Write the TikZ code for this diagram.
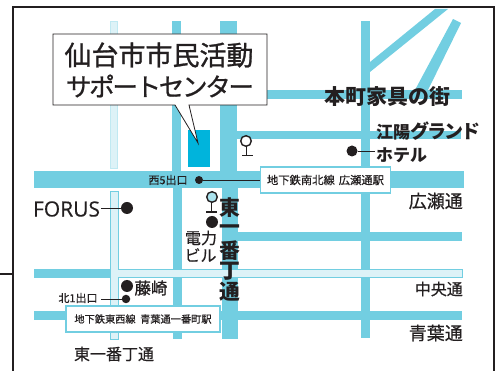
\documentclass[tikz,border=0pt]{standalone}
\usepackage{fontspec}
\setmainfont[FakeBold=0.5]{Noto Sans CJK JP}
\newfontfamily\latinf[FakeBold=0.3]{Open Sans}
\newfontfamily\heavyf{Noto Sans CJK JP}
\newfontfamily\kataf[FakeBold=0.8,LetterSpace=-9]{Noto Sans CJK JP}
\newfontfamily\katabf[LetterSpace=-10]{Noto Sans CJK JP}
\newfontfamily\midf[FakeBold=1]{Noto Sans CJK JP}
\definecolor{road}{HTML}{72CEE1}
\definecolor{pale}{HTML}{DDF2F7}
\definecolor{bldg}{HTML}{00B4DC}
\definecolor{ink}{HTML}{231F20}
\newcommand{\fs}[1]{\fontsize{#1}{#1}\selectfont}
\tikzset{
  x=1pt,y=-1pt,
  palefill/.style={fill=pale,draw=road,line width=0.8pt},
  lbl/.style={inner sep=0pt,text=ink,anchor=center},
  stationbox/.style={fill=white,draw=road,line width=1.1pt,inner sep=0pt,text=ink},
  leader/.style={draw=ink,line width=0.7pt},
  spot/.style={circle,fill=ink,inner sep=0pt},
  symring/.style={draw=ink,line width=1.4pt},
  symstem/.style={draw=ink,line width=1.9pt},
}
\begin{document}
\begin{tikzpicture}
\useasboundingbox (0,0) rectangle (496,371);
% frame
\draw[ink,line width=2.8pt] (13,371) -- (13,7) -- (494,7) -- (494,371);
\draw[ink,line width=1.3pt] (0,274) -- (13,274);
% roads
\fill[road] (172,21) rectangle (181,172);
\fill[road] (220,21) rectangle (237,172);
\fill[road] (361,21) rectangle (370,172);
\fill[road] (173,188) rectangle (182,339);
\fill[road] (222,188) rectangle (238,339);
\fill[road] (361,188) rectangle (370,338);
\fill[road] (236,90) rectangle (462,99);
\fill[road] (236,131) rectangle (461,139);
\fill[road] (34,171) rectangle (464,188);
\fill[road] (238,232) rectangle (462,241);
\fill[road] (34,269) rectangle (112,278);
\fill[road] (34,311) rectangle (462,320);
\fill[road] (370,62) -- (435,9) -- (448,9) -- (370,72) -- cycle;
\fill[road] (415,90) -- (453,19) -- (461,23) -- (428,90) -- cycle;
% pale roads
\path[fill=pale,draw=road!45,line width=0.5pt] (110.3,21) rectangle (117.7,168);
\path[palefill] (110.5,191) rectangle (118,339);
\path[palefill] (118,269.5) rectangle (462,277.5);
\fill[pale] (111,270) rectangle (125,277);
% building
\fill[bldg] (188,130) rectangle (210,167);
% callout
\draw[ink,line width=0.8pt,fill=white,line join=miter]
 (53,34) -- (267,34) -- (267,105) -- (189,105) -- (198,143) -- (175,105) -- (53,105) -- cycle;
\node[lbl] (title1) at (159,55) {\midf\fs{27}仙台市市民活動};
\node[lbl] (title2) at (160,86) {\kataf\fs{25.5}サポートセンター};
% labels right
\node[lbl] (honcho) at (387,97) {\heavyf\bfseries\fs{21}本町家具の街};
\node[lbl,anchor=west] (koyo1) at (376,131) {\heavyf\bfseries\fs{17}江陽\katabf\bfseries\fs{19}グランド};
\node[lbl,anchor=west] (koyo2) at (376,155) {\heavyf\bfseries\fs{17}ホテル};
\node[spot,minimum size=11pt] (koyodot) at (352,151) {};
\coordinate (koyoend) at (375,151);
\draw[leader] (koyodot) -- (koyoend);
% station boxes
\node[stationbox,minimum width=130pt,minimum height=26pt] (nsbox) at (325.5,180) {\fs{11.3}地下鉄南北線\hspace{0.35em}広瀬通駅};
\node[lbl] (west5) at (168,180) {\fs{11}西5出口};
\node[spot,minimum size=8pt] (west5dot) at (199,180) {};
\draw[leader] (west5dot) -- (nsbox);
\node[stationbox,minimum width=154pt,minimum height=26pt] (ewbox) at (143,319) {\fs{10.2}地下鉄東西線\hspace{0.45em}青葉通一番町駅};
% metro symbols
\draw[symring,fill=white] (246,141) circle (5.3);
\draw[symstem] (246.5,146.5) -- (246.5,155) (242,155.5) -- (253,155.5);
\draw[symring,fill=road!60] (212,197) circle (5.3);
\draw[symstem] (211.5,202.5) -- (211.5,212) (206,212) -- (217,212);
% left labels
\node[lbl] (forus) at (66.5,209) {\latinf\fs{21}FORUS};
\node[spot,minimum size=12pt] (forusdot) at (127,208) {};
\coordinate (forusend) at (101,208);
\draw[leader] (forusend) -- (forusdot);
\node[spot,minimum size=12pt] (denryokudot) at (212,222) {};
\node[lbl] (den1) at (201,238) {\fs{16}電力};
\node[lbl] (den2) at (200.5,255) {\fs{16}ビル};
\foreach \c/\y/\n in {東/208/a,一/230/b,番/251/c,丁/271.5/d,通/292/e}
  \node[lbl] (v\n) at (229.5,\y) {\heavyf\bfseries\fs{20.8}\c};
\node[spot,minimum size=12pt] (fujidot) at (127,286) {};
\node[lbl] (fuji) at (151,288) {\midf\fs{16.5}藤崎};
\node[lbl] (north1) at (78,298) {\fs{11}北1出口};
\node[spot,minimum size=8.5pt] (northdot) at (126,299) {};
\coordinate (northend) at (101,299);
\draw[leader] (northend) -- (northdot);
\node[lbl] (street) at (114,354) {\fs{16}東一番丁通};
\node[lbl,anchor=east] (hirose) at (463,201) {\fs{18}広瀬通};
\node[lbl,anchor=east] (chuo) at (463,289) {\fs{16}中央通};
\node[lbl,anchor=east] (aoba) at (463,333) {\fs{18}青葉通};
\end{tikzpicture}
\end{document}
